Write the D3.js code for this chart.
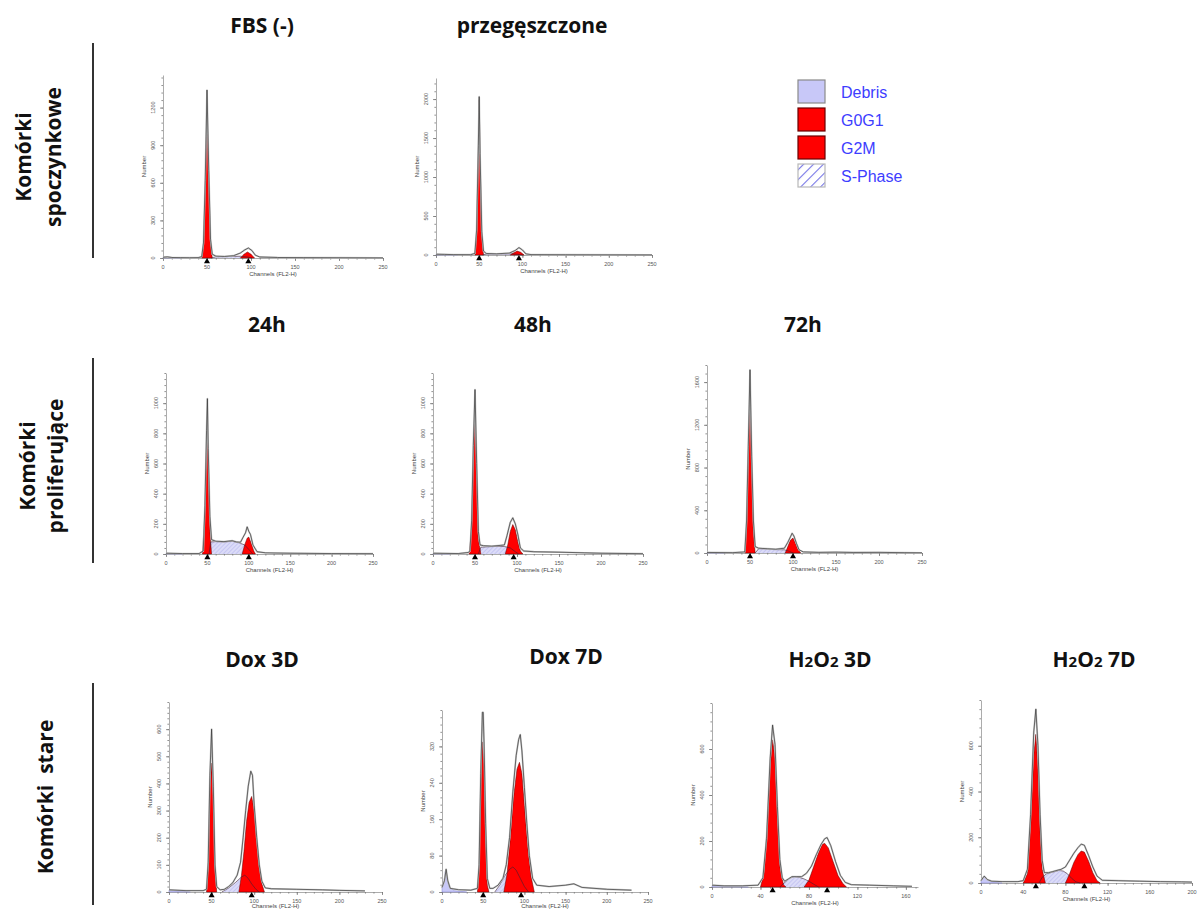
<!DOCTYPE html>
<html>
<head>
<meta charset="utf-8">
<script src="https://cdn.jsdelivr.net/npm/d3@7/dist/d3.min.js"></script>
<style>
  body { margin: 0; background: #fff; }
  svg { display: block; }
  .title { font-family: "Open Sans", sans-serif; font-weight: 700; font-size: 21px; fill: #111; }
  .rowLabel { font-family: "Open Sans", sans-serif; font-weight: 700; font-size: 21px; fill: #111; }
  .tickLabel { font-family: "Liberation Sans", Arial, sans-serif; font-size: 5.5px; fill: #555; }
  .axisTitle { font-family: "Liberation Sans", Arial, sans-serif; font-size: 6px; fill: #444; }
  .legendLabel { font-family: "Liberation Sans", Arial, sans-serif; font-size: 16px; fill: #3d3dff; }
</style>
</head>
<body>
<div id="chart"></div>
<script>
"use strict";

// ---- data ----
let panelTitles = ["FBS (-)", "przegęszczone", "24h", "48h", "72h", "Dox 3D", "Dox 7D", "H2O2 3D", "H2O2 7D"];
let rowLabels = [["Komórki", "spoczynkowe"], ["Komórki", "proliferujące"], ["Komórki  stare"]];
let legendLabels = ["Debris", "G0G1", "G2M", "S-Phase"];

let xMaxes = [250, 250, 250, 250, 250, 250, 250, 170, 200];
let yMaxes = [1460, 2270, 1200, 1200, 1760, 700, 400, 800, 800];
let xTickValues = [
  [0, 50, 100, 150, 200, 250], [0, 50, 100, 150, 200, 250], [0, 50, 100, 150, 200, 250],
  [0, 50, 100, 150, 200, 250], [0, 50, 100, 150, 200, 250], [0, 50, 100, 150, 200, 250],
  [0, 50, 100, 150, 200, 250], [0, 40, 80, 120, 160], [0, 40, 80, 120, 160, 200]
];
let yTickValues = [
  [0, 300, 600, 900, 1200], [0, 500, 1000, 1500, 2000], [0, 200, 400, 600, 800, 1000],
  [0, 200, 400, 600, 800, 1000], [0, 400, 800, 1200, 1600], [0, 100, 200, 300, 400, 500, 600],
  [0, 80, 160, 240, 320], [0, 200, 400, 600], [0, 200, 400, 600]
];
// G0G1 / G2M peak markers (channel)
let g1Markers = [50, 50, 50, 50, 50, 50, 50, 50, 52];
let g2Markers = [97, 96, 100, 96, 100, 97, 96, 95, 98];

// measured histogram outlines [channel, count]
let fbsOutline = [[0,6],[5,9],[10,4],[20,3],[30,2],[40,3],[44,10],[46,120],[48,620],[50,1340],[52,700],[54,150],[56,30],[60,15],[70,12],[80,18],[88,40],[93,65],[97,80],[101,60],[105,22],[110,8],[130,4],[160,3],[200,2],[250,1]];
let przOutline = [[0,10],[10,8],[20,5],[40,4],[45,20],[47,320],[49,1400],[50,2030],[51,1300],[53,300],[55,50],[58,20],[70,15],[85,25],[92,60],[96,95],[100,65],[104,15],[110,5],[150,3],[250,1]];
let h24Outline = [[0,5],[20,3],[40,3],[45,20],[47,320],[49,820],[50,1030],[51,700],[53,250],[55,95],[60,85],[70,82],[80,88],[85,80],[90,78],[93,110],[96,140],[98,180],[100,150],[102,130],[105,60],[110,15],[120,8],[150,5],[200,3],[250,2]];
let h48Outline = [[0,5],[30,3],[42,10],[44,20],[46,220],[48,720],[50,1090],[52,600],[54,150],[56,60],[60,55],[70,52],[80,57],[85,60],[88,120],[92,210],[95,240],[98,200],[101,130],[104,40],[108,20],[120,15],[150,12],[180,8],[200,5],[250,2]];
let h72Outline = [[0,5],[30,3],[44,10],[46,300],[48,1000],[50,1715],[52,900],[54,300],[56,60],[60,45],[70,40],[80,35],[90,45],[94,100],[97,150],[99,185],[101,160],[104,90],[107,30],[112,10],[130,6],[150,8],[170,5],[200,6],[230,3],[250,2]];
let dox3Outline = [[0,8],[20,5],[40,5],[44,10],[46,110],[48,430],[50,600],[52,390],[54,100],[56,20],[60,8],[65,10],[70,20],[75,35],[80,62],[84,110],[87,200],[90,300],[93,390],[96,445],[98,430],[100,320],[103,200],[106,100],[109,40],[113,15],[120,12],[150,10],[180,8],[200,6],[230,4]];
let dox7Outline = [[0,10],[3,25],[5,50],[7,25],[10,8],[20,5],[35,4],[43,8],[45,60],[47,260],[49,395],[50,395],[51,330],[53,150],[55,30],[58,8],[62,8],[68,15],[74,30],[78,60],[82,120],[86,220],[90,300],[93,335],[95,346],[97,310],[100,230],[103,150],[106,80],[110,30],[115,15],[130,12],[150,15],[160,18],[170,10],[200,6],[230,4]];
let h2o3Outline = [[0,8],[10,5],[25,5],[38,8],[42,40],[45,210],[48,560],[50,704],[52,620],[54,350],[56,120],[58,40],[60,25],[63,35],[66,45],[70,45],[74,45],[78,60],[82,90],[86,140],[90,185],[93,210],[95,215],[98,180],[102,110],[106,50],[110,20],[115,10],[130,8],[150,5],[165,3]];
let h2o7Outline = [[0,10],[3,30],[6,15],[10,8],[20,6],[35,6],[40,10],[44,60],[47,300],[50,660],[52,760],[54,600],[56,300],[58,100],[60,45],[64,45],[68,50],[72,55],[76,60],[80,70],[84,100],[88,130],[92,155],[95,170],[98,165],[102,120],[106,70],[110,30],[115,12],[130,10],[150,8],[170,6],[190,5],[200,4]];

// fitted G0G1 peaks
let fbsG1 = [[44,0],[46,90],[48,560],[50,1200],[52,620],[54,120],[56,0]];
let przG1 = [[45,0],[47,260],[49,1300],[50,1990],[51,1200],[53,250],[55,0]];
let h24G1 = [[44,0],[47,260],[49,700],[50,815],[51,600],[53,150],[55,0]];
let h48G1 = [[43,0],[46,160],[48,620],[50,950],[52,520],[54,100],[57,0]];
let h72G1 = [[44,0],[46,250],[48,900],[50,1500],[52,800],[54,200],[56,0]];
let dox3G1 = [[44,0],[46,80],[48,370],[50,475],[52,330],[54,80],[56,0]];
let dox7G1 = [[43,0],[45,50],[47,230],[49,330],[51,280],[53,110],[55,15],[57,0]];
let h2o3G1 = [[40,0],[43,60],[46,300],[48,520],[50,640],[52,560],[54,300],[56,90],[59,10],[61,0]];
let h2o7G1 = [[40,0],[44,40],[47,250],[50,560],[52,650],[54,500],[56,230],[58,60],[61,0]];

// fitted G2M peaks
let fbsG2 = [[88,0],[92,30],[96,48],[100,30],[104,0]];
let przG2 = [[86,0],[90,30],[94,50],[98,35],[102,0]];
let h24G2 = [[92,0],[95,60],[98,105],[100,112],[103,70],[106,20],[108,0]];
let h48G2 = [[86,0],[89,60],[92,150],[95,195],[98,160],[101,80],[104,20],[107,0]];
let h72G2 = [[91,0],[94,60],[97,120],[100,140],[103,90],[106,30],[109,0]];
let dox3G2 = [[82,0],[85,60],[88,150],[91,260],[94,330],[97,352],[100,300],[103,190],[106,90],[109,30],[112,0]];
let dox7G2 = [[75,0],[79,40],[83,120],[87,210],[91,270],[94,285],[97,260],[100,190],[104,100],[108,35],[112,0]];
let h2o3G2 = [[76,0],[80,30],[84,90],[88,150],[91,185],[93,190],[96,170],[100,110],[104,50],[108,15],[111,0]];
let h2o7G2 = [[80,0],[84,40],[88,90],[92,125],[95,140],[98,135],[102,95],[106,45],[110,10],[113,0]];

// fitted S-phase
let fbsS = [[55,0],[60,10],[75,12],[88,14],[96,8],[101,0]];
let przS = [[54,0],[58,12],[75,14],[88,15],[95,8],[100,0]];
let h24S = [[52,0],[54,80],[60,82],[70,80],[80,84],[88,75],[95,60],[100,30],[105,0]];
let h48S = [[54,0],[57,45],[65,48],[75,50],[85,50],[92,40],[98,15],[102,0]];
let h72S = [[56,0],[60,40],[70,38],[80,32],[90,30],[96,15],[100,0]];
let dox3S = [[62,0],[70,15],[78,35],[85,55],[89,62],[93,50],[97,30],[102,10],[106,0]];
let dox7S = [[64,0],[70,15],[76,35],[82,50],[86,55],[90,48],[95,30],[100,12],[105,0]];
let h2o3S = [[56,0],[60,20],[64,38],[68,45],[72,42],[76,35],[80,25],[84,12],[88,0]];
let h2o7S = [[55,0],[58,25],[62,40],[66,45],[70,50],[74,55],[78,52],[82,40],[86,20],[90,5],[94,0]];

// debris
let fbsDebris = [[0,6],[5,8],[10,3],[20,0]];
let przDebris = [[0,9],[8,6],[15,2],[25,0]];
let h24Debris = [[0,4],[10,2],[20,0]];
let h48Debris = [[0,4],[10,2],[20,0]];
let h72Debris = [[0,4],[10,2],[20,0]];
let dox3Debris = [[0,7],[10,4],[25,0]];
let dox7Debris = [[0,8],[2,20],[4,45],[6,28],[9,10],[15,3],[30,0]];
let h2o3Debris = [[0,6],[10,4],[30,0]];
let h2o7Debris = [[0,8],[2,25],[4,28],[6,14],[10,5],[20,0]];

let outlines = [fbsOutline, przOutline, h24Outline, h48Outline, h72Outline, dox3Outline, dox7Outline, h2o3Outline, h2o7Outline];
let g1Fits = [fbsG1, przG1, h24G1, h48G1, h72G1, dox3G1, dox7G1, h2o3G1, h2o7G1];
let g2Fits = [fbsG2, przG2, h24G2, h48G2, h72G2, dox3G2, dox7G2, h2o3G2, h2o7G2];
let sFits = [fbsS, przS, h24S, h48S, h72S, dox3S, dox7S, h2o3S, h2o7S];
let debrisFits = [fbsDebris, przDebris, h24Debris, h48Debris, h72Debris, dox3Debris, dox7Debris, h2o3Debris, h2o7Debris];

// ---- layout (pixels) ----
// x0: y-axis, x1: end of x-axis, y0: x-axis, y1: top of y-axis
let panelBoxes = [
  { x0: 163, x1: 383, y0: 258, y1: 75 },
  { x0: 436, x1: 652, y0: 255, y1: 78 },
  { x0: 166, x1: 373, y0: 554, y1: 373 },
  { x0: 433, x1: 643, y0: 554, y1: 373 },
  { x0: 707, x1: 922, y0: 553, y1: 365 },
  { x0: 169, x1: 382, y0: 892, y1: 702 },
  { x0: 442, x1: 648, y0: 892, y1: 710 },
  { x0: 712, x1: 918, y0: 887, y1: 703 },
  { x0: 981, x1: 1192, y0: 883, y1: 700 }
];
let titlePos = [[262, 33], [532, 33], [267, 332], [533, 332], [803, 332], [262, 667], [566, 664], [830, 667], [1094, 667]];
let rowLabelPos = [
  { xs: [23, 53], y: 157 },
  { xs: [27, 55], y: 466 },
  { xs: [45], y: 797 }
];
let separators = [[43, 258], [358, 563], [683, 905]];

let width = 1202, height = 910;

let svg = d3.select("#chart").append("svg")
  .attr("width", width)
  .attr("height", height);

let defs = svg.append("defs");
let hatch = defs.append("pattern")
  .attr("id", "sHatch")
  .attr("patternUnits", "userSpaceOnUse")
  .attr("width", 3)
  .attr("height", 3)
  .attr("patternTransform", "rotate(45)");
hatch.append("rect").attr("width", 3).attr("height", 3).attr("fill", "#dcdcf8");
hatch.append("line").attr("x1", 0).attr("y1", 0).attr("x2", 0).attr("y2", 3)
  .attr("stroke", "#a4a4ea").attr("stroke-width", 0.8);

let legendHatch = defs.append("pattern")
  .attr("id", "legendHatch")
  .attr("patternUnits", "userSpaceOnUse")
  .attr("width", 7)
  .attr("height", 7)
  .attr("patternTransform", "rotate(45)");
legendHatch.append("rect").attr("width", 7).attr("height", 7).attr("fill", "#fff");
legendHatch.append("line").attr("x1", 0).attr("y1", 0).attr("x2", 0).attr("y2", 7)
  .attr("stroke", "#7373e6").attr("stroke-width", 2.2);

// titles with small "2" in H2O2
function appendTitle(sel, text) {
  let parts = text.split(/(?<=[HO])(2)/);
  parts.forEach(part => {
    if (part === "2") {
      sel.append("tspan").attr("font-size", "15px").text("2");
    } else if (part.length) {
      sel.append("tspan").text(part);
    }
  });
}

panelTitles.forEach((t, i) => {
  let txt = svg.append("text")
    .attr("class", "title")
    .attr("x", titlePos[i][0])
    .attr("y", titlePos[i][1])
    .attr("text-anchor", "middle");
  appendTitle(txt, t);
});

// row labels and separator lines
rowLabels.forEach((lines, r) => {
  lines.forEach((line, k) => {
    svg.append("text")
      .attr("class", "rowLabel")
      .attr("text-anchor", "middle")
      .attr("dominant-baseline", "central")
      .attr("transform", "translate(" + rowLabelPos[r].xs[k] + "," + rowLabelPos[r].y + ") rotate(-90)")
      .attr("xml:space", "preserve")
      .style("white-space", "pre")
      .text(line);
  });

  svg.append("line")
    .attr("x1", 93).attr("x2", 93)
    .attr("y1", separators[r][0]).attr("y2", separators[r][1])
    .attr("stroke", "#333")
    .attr("stroke-width", 2);
});

function drawPanel(i) {
  let box = panelBoxes[i];
  let g = svg.append("g").attr("class", "histPanel");

  let x = d3.scaleLinear().domain([0, xMaxes[i]]).range([box.x0, box.x1]);
  let y = d3.scaleLinear().domain([0, yMaxes[i]]).range([box.y0, box.y1]);

  let area = d3.area()
    .x(d => x(d[0]))
    .y0(y(0))
    .y1(d => y(d[1]));
  let line = d3.line()
    .x(d => x(d[0]))
    .y(d => y(d[1]));

  // axes first, so the histogram sits on top of them
  let yStep = yTickValues[i][1] - yTickValues[i][0];
  let yMinor = d3.range(0, yMaxes[i] + 0.001, yStep / 5);
  let xStep = xTickValues[i][1] - xTickValues[i][0];
  let xMinor = d3.range(0, xMaxes[i] + 0.001, xStep / 5);

  let axisG = g.append("g");
  axisG.append("g")
    .attr("transform", "translate(" + box.x0 + ",0)")
    .call(d3.axisLeft(y).tickValues(yTickValues[i]).tickSize(3).tickSizeOuter(0).tickFormat(""));
  axisG.append("g")
    .attr("transform", "translate(" + box.x0 + ",0)")
    .call(d3.axisLeft(y).tickValues(yMinor).tickSize(1.6).tickSizeOuter(0).tickFormat(""))
    .select(".domain").remove();
  axisG.append("g")
    .attr("transform", "translate(0," + box.y0 + ")")
    .call(d3.axisBottom(x).tickValues(xTickValues[i]).tickSize(3).tickSizeOuter(0).tickFormat(""));
  axisG.append("g")
    .attr("transform", "translate(0," + box.y0 + ")")
    .call(d3.axisBottom(x).tickValues(xMinor).tickSize(1.6).tickSizeOuter(0).tickFormat(""))
    .select(".domain").remove();

  axisG.selectAll(".domain").attr("stroke", "#888").attr("stroke-width", 0.7);
  axisG.selectAll(".tick line").attr("stroke", "#777").attr("stroke-width", 0.8);

  g.append("path").datum(debrisFits[i])
    .attr("d", area).attr("fill", "#c8c8f8").attr("stroke", "#8080d0").attr("stroke-width", 0.5);

  g.append("path").datum(sFits[i])
    .attr("d", area).attr("fill", "url(#sHatch)");

  [g1Fits[i], g2Fits[i]].forEach(fit => {
    g.append("path").datum(fit)
      .attr("d", area)
      .attr("fill", "#ff0000")
      .attr("stroke", "#5a0000")
      .attr("stroke-width", 0.5);
  });

  g.append("path").datum(sFits[i])
    .attr("d", line).attr("fill", "none").attr("stroke", "#402030").attr("stroke-width", 0.6);

  // measured histogram: grey halo + dark line
  g.append("path").datum(outlines[i])
    .attr("d", line).attr("fill", "none").attr("stroke", "#c6c6c6").attr("stroke-width", 1.8)
    .attr("stroke-linejoin", "round");
  g.append("path").datum(outlines[i])
    .attr("d", line).attr("fill", "none").attr("stroke", "#2e2e2e").attr("stroke-width", 0.65)
    .attr("stroke-linejoin", "round");

  g.selectAll(".yLab")
    .data(yTickValues[i])
    .enter().append("text")
    .attr("class", "tickLabel")
    .attr("text-anchor", "middle")
    .attr("transform", d => "translate(" + (box.x0 - 8) + "," + y(d) + ") rotate(-90)")
    .text(d => d);

  g.selectAll(".xLab")
    .data(xTickValues[i])
    .enter().append("text")
    .attr("class", "tickLabel")
    .attr("text-anchor", "middle")
    .attr("x", d => x(d))
    .attr("y", box.y0 + 10.5)
    .text(d => d);

  g.append("text")
    .attr("class", "axisTitle")
    .attr("text-anchor", "middle")
    .attr("transform", "translate(" + (box.x0 - 17) + "," + ((box.y0 + box.y1) / 2) + ") rotate(-90)")
    .text("Number");

  g.append("text")
    .attr("class", "axisTitle")
    .attr("text-anchor", "middle")
    .attr("x", (box.x0 + box.x1) / 2)
    .attr("y", Math.min(box.y0 + 17.5, height - 2))
    .text("Channels (FL2-H)");

  // peak markers
  g.selectAll(".marker")
    .data([g1Markers[i], g2Markers[i]])
    .enter().append("path")
    .attr("d", d3.symbol(d3.symbolTriangle, 16))
    .attr("transform", d => "translate(" + x(d) + "," + (box.y0 + 3.5) + ")")
    .attr("fill", "#000");
}

d3.range(panelTitles.length).forEach(drawPanel);

// legend
let legendFills = ["#c8c8f8", "#ff0000", "#ff0000", "url(#legendHatch)"];
let legendStrokes = ["#8a8a8a", "#6a0000", "#6a0000", "#b8b8b8"];
let legend = svg.append("g").attr("transform", "translate(798,80)");
legendLabels.forEach((lab, k) => {
  legend.append("rect")
    .attr("x", 0)
    .attr("y", k * 28)
    .attr("width", 27)
    .attr("height", 23)
    .attr("fill", legendFills[k])
    .attr("stroke", legendStrokes[k])
    .attr("stroke-width", 1.2);
  legend.append("text")
    .attr("class", "legendLabel")
    .attr("x", 43)
    .attr("y", k * 28 + 18)
    .text(lab);
});
</script>
</body>
</html>
